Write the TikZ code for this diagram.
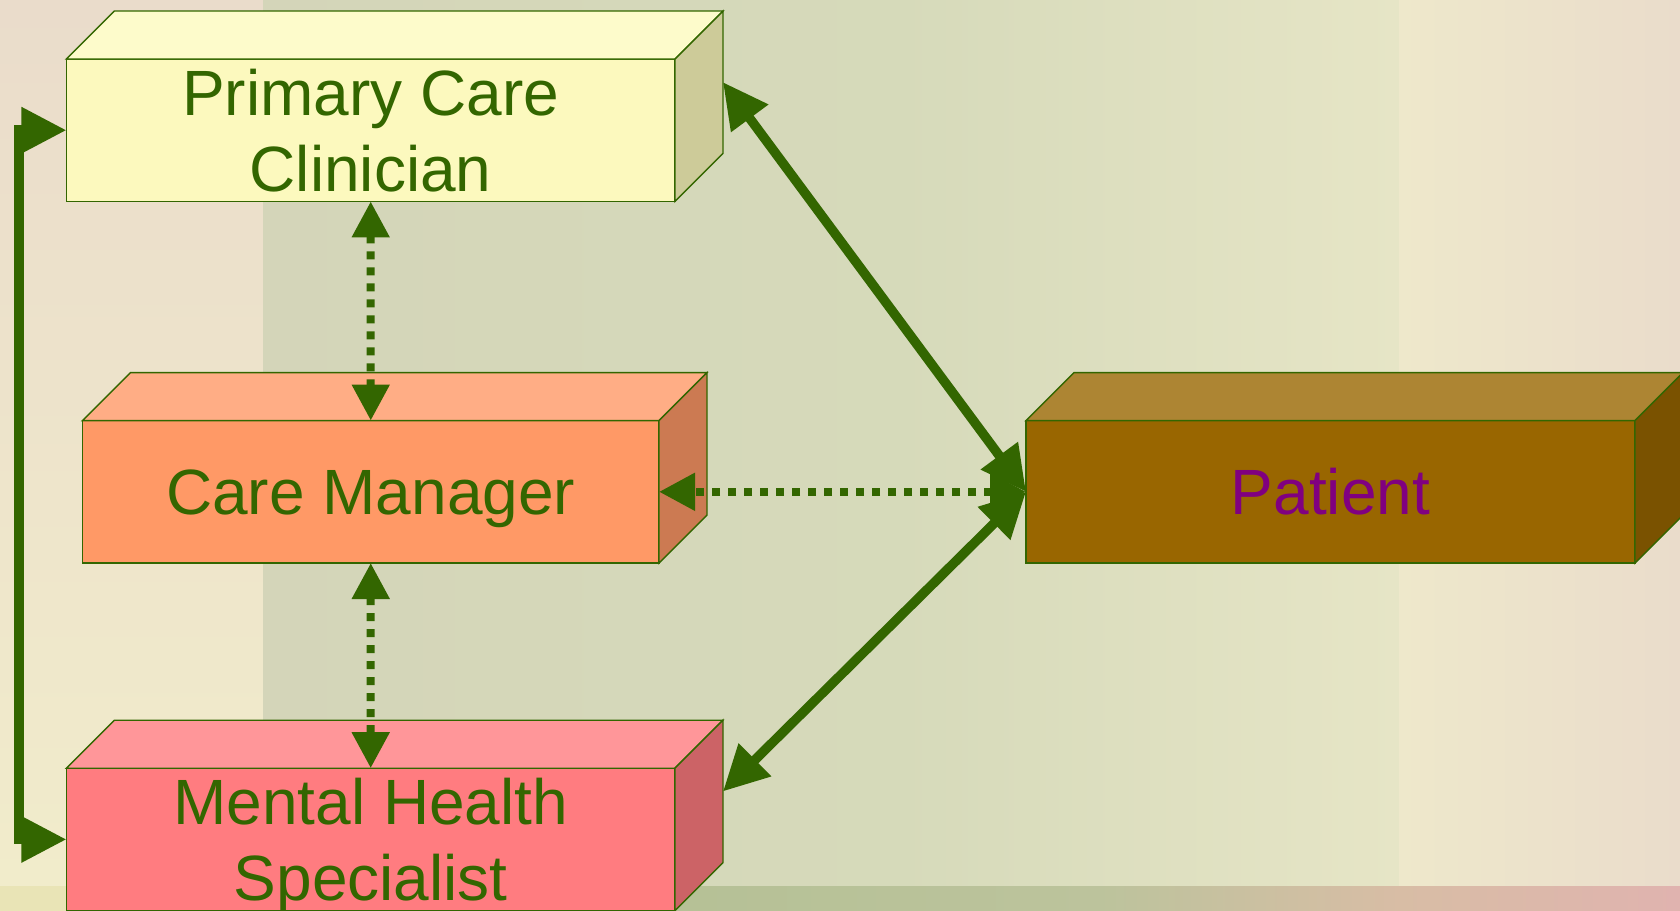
\documentclass[tikz,border=0pt]{standalone}
\usepackage{fontspec}
\setmainfont{Liberation Sans}
\usetikzlibrary{arrows.meta}
\definecolor{dg}{HTML}{336600}
\definecolor{pccF}{HTML}{FCF9BE}
\definecolor{pccT}{HTML}{FDFBCB}
\definecolor{pccS}{HTML}{CDCB99}
\definecolor{cmF}{HTML}{FF9966}
\definecolor{cmT}{HTML}{FFAD85}
\definecolor{cmS}{HTML}{CC7A52}
\definecolor{mhsF}{HTML}{FF7C80}
\definecolor{mhsT}{HTML}{FF9699}
\definecolor{mhsS}{HTML}{CC6366}
\definecolor{patF}{HTML}{996600}
\definecolor{patT}{HTML}{AD8533}
\definecolor{patS}{HTML}{7A5200}
\definecolor{patText}{HTML}{800080}
\definecolor{bgA}{HTML}{EADCCB}
\definecolor{bgB}{HTML}{F1ECCB}
\definecolor{bgC}{HTML}{D4D5B9}
\definecolor{bgD}{HTML}{D6DABA}
\definecolor{bgE}{HTML}{E6E5C6}
\definecolor{bgF}{HTML}{EEE8CB}
\definecolor{bgG}{HTML}{EADCCB}
\definecolor{bandA}{HTML}{E9E4B6}
\definecolor{bandB}{HTML}{AFBF90}
\definecolor{bandC}{HTML}{BCC39C}
\definecolor{bandD}{HTML}{D8BDA5}
\definecolor{bandE}{HTML}{E0B3AF}
\tikzset{
  front/.style={draw=dg, line width=0.7pt, inner sep=0pt, outer sep=0pt,
    minimum height=71.2pt, text=dg, align=center, text depth=0pt,
    font=\fontsize{32pt}{38pt}\selectfont},
  face/.style={draw=dg, line width=0.7pt, line join=miter},
  bigarrow/.style={draw=dg, line width=4.75pt,
    {Triangle[length=22.5pt,width=22pt]}-{Triangle[length=22.5pt,width=22pt]}},
  dotarrow/.style={draw=dg, line width=4pt, dash pattern=on 4pt off 4pt,
    {Triangle[length=18pt,width=18pt]}-{Triangle[length=18pt,width=18pt]}},
}
\begin{document}
\begin{tikzpicture}[x=0.5pt,y=-0.5pt]
\useasboundingbox (0,0) rectangle (1680,910);
\begin{scope}
\clip (0,0) rectangle (1680,910);
% background
\shade[top color=bgA, bottom color=bgB] (0,0) rectangle (264,886);
\shade[left color=bgC, right color=bgD] (263,0) rectangle (900,886);
\shade[left color=bgD, right color=bgE] (899,0) rectangle (1400,886);
\shade[left color=bgF, right color=bgG] (1399,0) rectangle (1680,886);
\shade[left color=bandA, right color=bandA] (0,886) rectangle (264,910);
\shade[left color=bandB, right color=bandC] (263,886) rectangle (1100,910);
\shade[left color=bandC, right color=bandD] (1099,886) rectangle (1400,910);
\shade[left color=bandD, right color=bandE] (1399,886) rectangle (1680,910);

% Primary Care Clinician
\node[front, minimum width=304.3pt, fill=pccF] (pcc) at (370.7,130.2) {Primary Care\\Clinician};
\filldraw[face, fill=pccT] (pcc.north west) -- ++(48,-48) -- ([shift={(48,-48)}]pcc.north east) -- (pcc.north east) -- cycle;
\filldraw[face, fill=pccS] (pcc.north east) -- ([shift={(48,-48)}]pcc.north east) -- ([shift={(48,-48)}]pcc.south east) -- (pcc.south east) -- cycle;
\coordinate (pccb) at ([shift={(48,-48)}]pcc.east);

% Care Manager
\node[front, minimum width=288.25pt, fill=cmF] (cm) at (370.75,491.8) {Care Manager};
\filldraw[face, fill=cmT] (cm.north west) -- ++(48,-48) -- ([shift={(48,-48)}]cm.north east) -- (cm.north east) -- cycle;
\filldraw[face, fill=cmS] (cm.north east) -- ([shift={(48,-48)}]cm.north east) -- ([shift={(48,-48)}]cm.south east) -- (cm.south east) -- cycle;

% Mental Health Specialist
\node[front, minimum width=304.3pt, fill=mhsF] (mhs) at (370.7,839.4) {Mental Health\\Specialist};
\filldraw[face, fill=mhsT] (mhs.north west) -- ++(48,-48) -- ([shift={(48,-48)}]mhs.north east) -- (mhs.north east) -- cycle;
\filldraw[face, fill=mhsS] (mhs.north east) -- ([shift={(48,-48)}]mhs.north east) -- ([shift={(48,-48)}]mhs.south east) -- (mhs.south east) -- cycle;
\coordinate (mhsb) at ([shift={(48,-48)}]mhs.east);

% Patient
\node[front, minimum width=304.5pt, fill=patF, text=patText] (pat) at (1330.5,491.8) {Patient};
\filldraw[face, fill=patT] (pat.north west) -- ++(48,-48) -- ([shift={(48,-48)}]pat.north east) -- (pat.north east) -- cycle;
\filldraw[face, fill=patS] (pat.north east) -- ([shift={(48,-48)}]pat.north east) -- ([shift={(48,-48)}]pat.south east) -- (pat.south east) -- cycle;

% connectors
\coordinate (lx) at (19,0);
\draw[dotarrow] (pcc.south) -- (cm.north);
\draw[dotarrow] (cm.south) -- (mhs.north);
\draw[dotarrow] (pat.west) -- (cm.east);
\draw[bigarrow] (pcc.west) -- (pcc.west -| lx) -- (mhs.west -| lx) -- (mhs.west);
\draw[bigarrow] (pccb) -- (pat.west);
\draw[bigarrow] (mhsb) -- (pat.west);
\end{scope}
\end{tikzpicture}
\end{document}
